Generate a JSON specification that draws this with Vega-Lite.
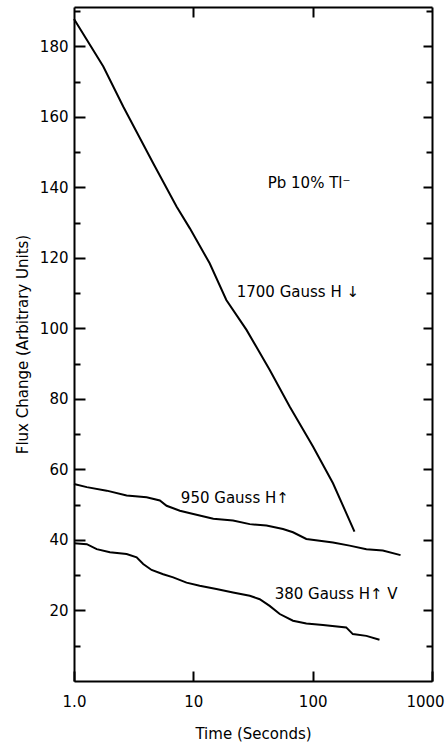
{
  "$schema": "https://vega.github.io/schema/vega-lite/v6.json",
  "width": 358,
  "height": 674,
  "autosize": {"type": "none"},
  "padding": {"left": 74, "top": 7, "right": 15, "bottom": 61},
  "resolve": {"scale": {"x": "shared", "y": "shared"}, "axis": {"x": "independent", "y": "independent"}},
  "layer": [
    {
      "data": {"values": [
        {"series": "1700", "t": 1.0, "flux": 187.8},
        {"series": "1700", "t": 1.76, "flux": 174.3},
        {"series": "1700", "t": 2.59, "flux": 162.9},
        {"series": "1700", "t": 4.61, "flux": 146.9},
        {"series": "1700", "t": 7.23, "flux": 134.6},
        {"series": "1700", "t": 9.35, "flux": 128.4},
        {"series": "1700", "t": 13.7, "flux": 118.5},
        {"series": "1700", "t": 18.9, "flux": 108.1},
        {"series": "1700", "t": 27.9, "flux": 99.6},
        {"series": "1700", "t": 43.7, "flux": 88.2},
        {"series": "1700", "t": 64.3, "flux": 77.8},
        {"series": "1700", "t": 100.6, "flux": 66.5},
        {"series": "1700", "t": 148, "flux": 56.1},
        {"series": "1700", "t": 224, "flux": 42.4},
        {"series": "950", "t": 1.0, "flux": 55.9},
        {"series": "950", "t": 1.28, "flux": 55.0},
        {"series": "950", "t": 1.88, "flux": 54.0},
        {"series": "950", "t": 2.76, "flux": 52.6},
        {"series": "950", "t": 4.06, "flux": 52.1},
        {"series": "950", "t": 5.24, "flux": 51.2},
        {"series": "950", "t": 5.97, "flux": 49.7},
        {"series": "950", "t": 7.71, "flux": 48.3},
        {"series": "950", "t": 10.0, "flux": 47.4},
        {"series": "950", "t": 14.7, "flux": 46.0},
        {"series": "950", "t": 21.5, "flux": 45.5},
        {"series": "950", "t": 29.7, "flux": 44.5},
        {"series": "950", "t": 41.0, "flux": 44.1},
        {"series": "950", "t": 56.4, "flux": 43.1},
        {"series": "950", "t": 68.4, "flux": 42.2},
        {"series": "950", "t": 88.5, "flux": 40.3},
        {"series": "950", "t": 114.5, "flux": 39.8},
        {"series": "950", "t": 148, "flux": 39.3},
        {"series": "950", "t": 204, "flux": 38.4},
        {"series": "950", "t": 282, "flux": 37.4},
        {"series": "950", "t": 387, "flux": 37.0},
        {"series": "950", "t": 545, "flux": 35.7},
        {"series": "380", "t": 1.0, "flux": 39.1},
        {"series": "380", "t": 1.28, "flux": 38.8},
        {"series": "380", "t": 1.55, "flux": 37.4},
        {"series": "380", "t": 2.0, "flux": 36.5},
        {"series": "380", "t": 2.76, "flux": 36.0},
        {"series": "380", "t": 3.35, "flux": 35.1},
        {"series": "380", "t": 3.8, "flux": 33.2},
        {"series": "380", "t": 4.47, "flux": 31.5},
        {"series": "380", "t": 5.59, "flux": 30.3},
        {"series": "380", "t": 6.78, "flux": 29.4},
        {"series": "380", "t": 8.77, "flux": 27.9},
        {"series": "380", "t": 11.3, "flux": 27.0},
        {"series": "380", "t": 15.6, "flux": 26.1},
        {"series": "380", "t": 21.5, "flux": 25.1},
        {"series": "380", "t": 29.7, "flux": 24.2},
        {"series": "380", "t": 36.0, "flux": 23.2},
        {"series": "380", "t": 43.6, "flux": 21.3},
        {"series": "380", "t": 53.0, "flux": 19.0},
        {"series": "380", "t": 68.4, "flux": 17.1},
        {"series": "380", "t": 88.5, "flux": 16.3},
        {"series": "380", "t": 122, "flux": 15.9},
        {"series": "380", "t": 191, "flux": 15.2},
        {"series": "380", "t": 217, "flux": 13.3},
        {"series": "380", "t": 282, "flux": 12.8},
        {"series": "380", "t": 363, "flux": 11.7}
      ]},
      "mark": {"type": "line", "color": "black", "strokeWidth": 2},
      "encoding": {
        "detail": {"field": "series"},
        "x": {"field": "t", "type": "quantitative", "scale": {"type": "log", "domain": [1, 1000], "nice": false},
          "axis": {"orient": "bottom", "title": "Time  (Seconds)", "values": [1, 10, 100, 1000], "labelExpr": "datum.value == 1 ? '1.0' : format(datum.value, 'd')", "domain": true, "domainColor": "black", "domainWidth": 2, "grid": false, "tickSize": -10, "tickColor": "black", "tickWidth": 2, "labelPadding": 23, "labelFlush": false, "labelFont": "DejaVu Sans", "labelFontSize": 15, "labelColor": "black", "labelOffset": {"condition": {"test": "datum.value == 1000", "value": -7}, "value": 0}, "titleFont": "DejaVu Sans", "titleFontSize": 15, "titleFontWeight": "normal", "titleColor": "black", "titlePadding": 17}},
        "y": {"field": "flux", "type": "quantitative", "scale": {"domain": [0, 191.2], "nice": false, "zero": false},
          "axis": {"orient": "left", "title": "Flux Change (Arbitrary Units)", "values": [10, 20, 30, 40, 50, 60, 70, 80, 90, 100, 110, 120, 130, 140, 150, 160, 170, 180, 190], "labelExpr": "datum.value % 20 === 0 ? datum.label : ''", "domain": true, "domainColor": "black", "domainWidth": 2, "grid": false, "tickSize": {"condition": {"test": "datum.value % 20 === 0", "value": -11}, "value": -6}, "tickColor": "black", "tickWidth": 2, "labelPadding": 17, "labelFont": "DejaVu Sans", "labelFontSize": 15, "labelColor": "black", "titleFont": "DejaVu Sans", "titleFontSize": 15, "titleFontWeight": "normal", "titleColor": "black", "titlePadding": 9}}
      }
    },
    {
      "data": {"values": [
        {"label": "Pb 10% Tl⁻", "t": 42, "flux": 141.3},
        {"label": "1700 Gauss  H ↓", "t": 23.1, "flux": 110.3},
        {"label": "950 Gauss  H↑", "t": 7.86, "flux": 52.0},
        {"label": "380 Gauss  H↑  V", "t": 48, "flux": 24.7}
      ]},
      "mark": {"type": "text", "align": "left", "baseline": "middle", "fontSize": 15, "font": "DejaVu Sans", "color": "black"},
      "encoding": {
        "x": {"field": "t", "type": "quantitative",
          "axis": {"orient": "top", "title": null, "values": [10, 100], "domain": true, "domainColor": "black", "domainWidth": 2, "grid": false, "tickSize": -10, "tickColor": "black", "tickWidth": 2, "labels": false}},
        "y": {"field": "flux", "type": "quantitative",
          "axis": {"orient": "right", "title": null, "values": [10, 20, 30, 40, 50, 60, 70, 80, 90, 100, 110, 120, 130, 140, 150, 160, 170, 180, 190], "domain": true, "domainColor": "black", "domainWidth": 2, "grid": false, "tickSize": {"condition": {"test": "datum.value % 20 === 0", "value": -9}, "value": -6}, "tickColor": "black", "tickWidth": 2, "labels": false}},
        "text": {"field": "label"}
      }
    }
  ]
}
